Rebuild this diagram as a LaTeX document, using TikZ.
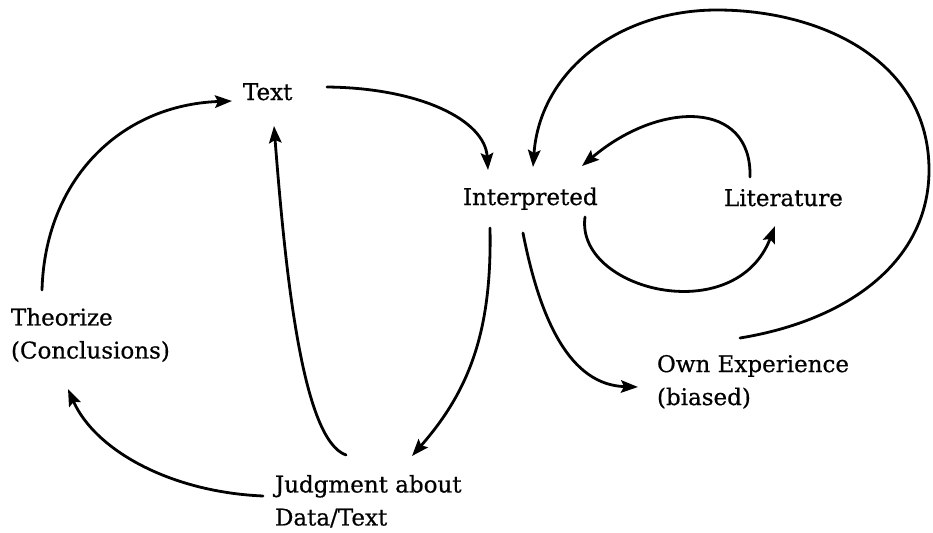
\documentclass[tikz,border=0pt]{standalone}
\usepackage{fontspec}
\setmainfont[FakeBold=0.6]{DejaVu Serif}
\usetikzlibrary{arrows.meta}
\begin{document}
\begin{tikzpicture}[x=1pt,y=-1pt,
  lbl/.style={inner sep=0pt,outer sep=0pt,font=\fontsize{23}{33}\selectfont,align=left},
  arr/.style={line width=2.8pt,line cap=round,-{Stealth[length=17pt,width=12.5pt,inset=3pt]}}]
\useasboundingbox (0,0) rectangle (933,532);
% nodes
\node[lbl,anchor=base west] (txt) at (243,100) {Text};
\node[lbl,anchor=base west] (int) at (463,205) {Interpreted};
\node[lbl,anchor=base west] (lit) at (724,206) {Literature};
\node[lbl,anchor=north west] (theo) at (11,308) {Theorize\\(Conclusions)};
\node[lbl,anchor=north west] (own) at (657,355) {Own Experience\\(biased)};
\node[lbl,anchor=north west] (jud) at (275,475) {Judgment about\\Data/Text};
% connectors
\draw[arr] ([shift={(31,-18)}]theo.north west) .. controls (45,180) and (120,105) .. ([shift={(-11,1)}]txt.base west);
\draw[arr] ([shift={(71,-20)}]jud.north west) .. controls (303,440) and (286,280) .. ([shift={(31,26)}]txt.base west);
\draw[arr] ([shift={(-12,21)}]jud.north west) .. controls (170,492) and (95,450) .. ([shift={(57,81)}]theo.north west);
\draw[arr] ([shift={(84,-13)}]txt.base west) .. controls (420,88) and (485,120) .. ([shift={(25,-35)}]int.base west);
\draw[arr] ([shift={(27,23)}]int.base west) .. controls (492,330) and (470,390) .. ([shift={(137,-19)}]jud.north west);
\draw[arr] ([shift={(60,28)}]int.base west) .. controls (540,320) and (570,385) .. ([shift={(-19,32)}]own.north west);
\draw[arr] ([shift={(122,12)}]int.base west) .. controls (575,290) and (735,330) .. ([shift={(51,20)}]lit.base west);
\draw[arr] ([shift={(26,-29)}]lit.base west) .. controls (752,100) and (660,100) .. ([shift={(119,-39)}]int.base west);
\draw[arr] ([shift={(83,-17)}]own.north west) .. controls (850,320) and (929,260) .. (929,170)
  .. controls (929,60) and (820,10) .. (717,10)
  .. controls (620,10) and (540,70) .. ([shift={(70,-38)}]int.base west);
\end{tikzpicture}
\end{document}
